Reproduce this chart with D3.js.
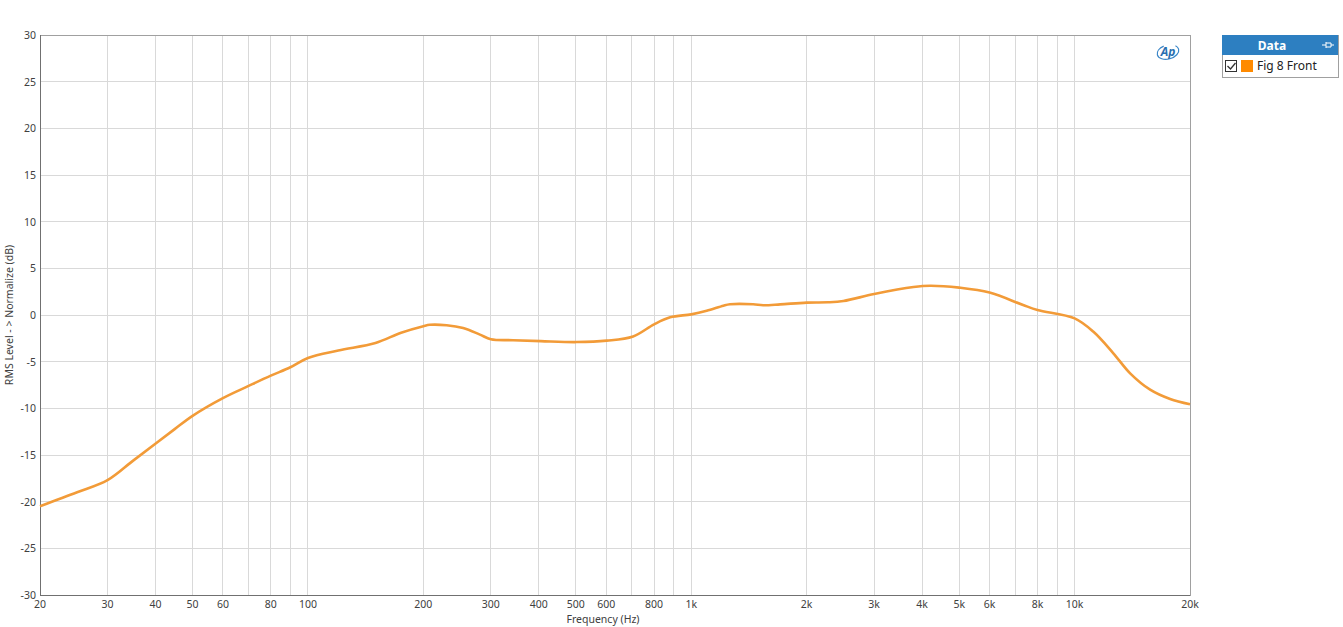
<!DOCTYPE html>
<html><head><meta charset="utf-8">
<script src="https://cdn.jsdelivr.net/npm/d3@7/dist/d3.min.js"></script>
<style>body{margin:0;background:#fff;font-family:"Noto Sans","Open Sans",sans-serif;}</style>
</head><body>
<svg id="c" width="1343" height="627"></svg>
<script>
const freqs = [20,25,30,35,40,45,50,60,70,80,90,100,120,150,175,200,208,230,254,281,300,343,405,502,602,705,800,881,1000,1097,1213,1262,1450,1540,1706,2000,2273,2494,3000,3800,4200,5000,6000,7340,8000,10000,11200,12620,13960,15740,17750,20000];
const levels = [-20.5,-19.0,-17.7,-15.6,-13.8,-12.2,-10.8,-8.9,-7.6,-6.5,-5.6,-4.6,-3.8,-3.0,-1.9,-1.2,-1.05,-1.1,-1.4,-2.1,-2.6,-2.7,-2.8,-2.9,-2.75,-2.3,-1.0,-0.25,0.07,0.45,1.0,1.15,1.15,1.05,1.14,1.33,1.36,1.5,2.25,3.0,3.14,2.93,2.4,1.07,0.54,-0.36,-1.8,-4.1,-6.25,-8.0,-9.0,-9.57];
const xTickVals = [20,30,40,50,60,80,100,200,300,400,500,600,800,1000,2000,3000,4000,5000,6000,8000,10000,20000];
const xTickLabels = ["20","30","40","50","60","80","100","200","300","400","500","600","800","1k","2k","3k","4k","5k","6k","8k","10k","20k"];
const xGridVals = [20,30,40,50,60,70,80,90,100,200,300,400,500,600,700,800,900,1000,2000,3000,4000,5000,6000,7000,8000,9000,10000,20000];
const yTickVals = [30,25,20,15,10,5,0,-5,-10,-15,-20,-25,-30];
const seriesName = "Fig 8 Front";

const svg = d3.select("#c");
const L=40,R=1190,T=35,B=595;
const x = d3.scaleLog().domain([20,20000]).range([L,R]);
const y = d3.scaleLinear().domain([-30,30]).range([B,T]);

// grid
svg.append("g").selectAll("line").data(xGridVals).join("line")
  .attr("x1",d=>x(d)).attr("x2",d=>x(d)).attr("y1",T).attr("y2",B)
  .attr("stroke","#d9d9d9").attr("stroke-width",1).attr("shape-rendering","crispEdges");
svg.append("g").selectAll("line").data(yTickVals).join("line")
  .attr("x1",L).attr("x2",R).attr("y1",d=>y(d)).attr("y2",d=>y(d))
  .attr("stroke","#d9d9d9").attr("stroke-width",1).attr("shape-rendering","crispEdges");

// frame
svg.append("rect").attr("x",L).attr("y",T).attr("width",R-L).attr("height",B-T)
  .attr("fill","none").attr("stroke","#a0a0a0").attr("shape-rendering","crispEdges");
svg.append("line").attr("x1",L).attr("x2",L).attr("y1",T).attr("y2",B).attr("stroke","#707070").attr("shape-rendering","crispEdges");
svg.append("line").attr("x1",L).attr("x2",R).attr("y1",B).attr("y2",B).attr("stroke","#707070").attr("shape-rendering","crispEdges");

// axes labels
svg.append("g").selectAll("text").data(xTickVals).join("text")
  .attr("x",d=>x(d)).attr("y",608).attr("text-anchor","middle")
  .attr("font-size","10.5px").attr("fill","#404040").text((d,i)=>xTickLabels[i]);
svg.append("g").selectAll("text").data(yTickVals).join("text")
  .attr("x",36).attr("y",d=>y(d)+4).attr("text-anchor","end")
  .attr("font-size","10.5px").attr("fill","#404040").text(d=>d);
svg.append("text").attr("x",603).attr("y",623).attr("text-anchor","middle")
  .attr("font-size","10.5px").attr("fill","#404040").text("Frequency (Hz)");
svg.append("text").attr("transform","translate(13,315) rotate(-90)").attr("text-anchor","middle")
  .attr("font-size","10.5px").attr("fill","#404040").text("RMS Level - > Normalize (dB)");

// curve
const line = d3.line().x((d,i)=>x(freqs[i])).y(d=>y(d)).curve(d3.curveCatmullRom.alpha(0.5));
svg.append("path").attr("d",line(levels)).attr("fill","none")
  .attr("stroke","#F29B38").attr("stroke-width",2.6).attr("stroke-linejoin","round");

// AP logo
const lg = svg.append("g").attr("transform","translate(1168,52)");
lg.append("ellipse").attr("rx",11).attr("ry",7).attr("fill","none").attr("stroke","#3a86c8").attr("stroke-width",1.2)
  .attr("transform","rotate(-15)").attr("stroke-dasharray","40 12");
lg.append("text").attr("x",0).attr("y",4).attr("text-anchor","middle").attr("font-size","12px")
  .attr("font-style","italic").attr("font-weight","bold").attr("fill","#2a6fb0").text("Ap");

// legend
const lx=1222, ly=35;
svg.append("rect").attr("x",lx).attr("y",ly).attr("width",116).attr("height",42).attr("fill","#fff").attr("stroke","#a0a0a0").attr("shape-rendering","crispEdges");
svg.append("rect").attr("x",lx).attr("y",ly).attr("width",116).attr("height",20).attr("fill","#2d7fc1").attr("shape-rendering","crispEdges");
svg.append("text").attr("x",lx+50).attr("y",ly+15).attr("text-anchor","middle").attr("font-size","12px").attr("font-weight","bold").attr("fill","#fff").text("Data");
svg.append("path").attr("d",`M${lx+100},${ly+10} h4 M${lx+104},${ly+7} v6 M${lx+104},${ly+8} h5 v4 h-5 M${lx+109},${ly+10} h3`).attr("stroke","#fff").attr("fill","none").attr("stroke-width",1);
svg.append("rect").attr("x",lx+3.5).attr("y",ly+25.5).attr("width",11).attr("height",11).attr("fill","#fff").attr("stroke","#333");
svg.append("path").attr("d",`M${lx+5.5},${ly+31} l3,3 l5,-6`).attr("stroke","#333").attr("fill","none").attr("stroke-width",1.3);
svg.append("rect").attr("x",lx+19).attr("y",ly+25).attr("width",12).attr("height",12).attr("fill","#FF8A00");
svg.append("text").attr("x",lx+35).attr("y",ly+35).attr("font-size","12px").attr("fill","#222").text(seriesName);
</script>
</body></html>
